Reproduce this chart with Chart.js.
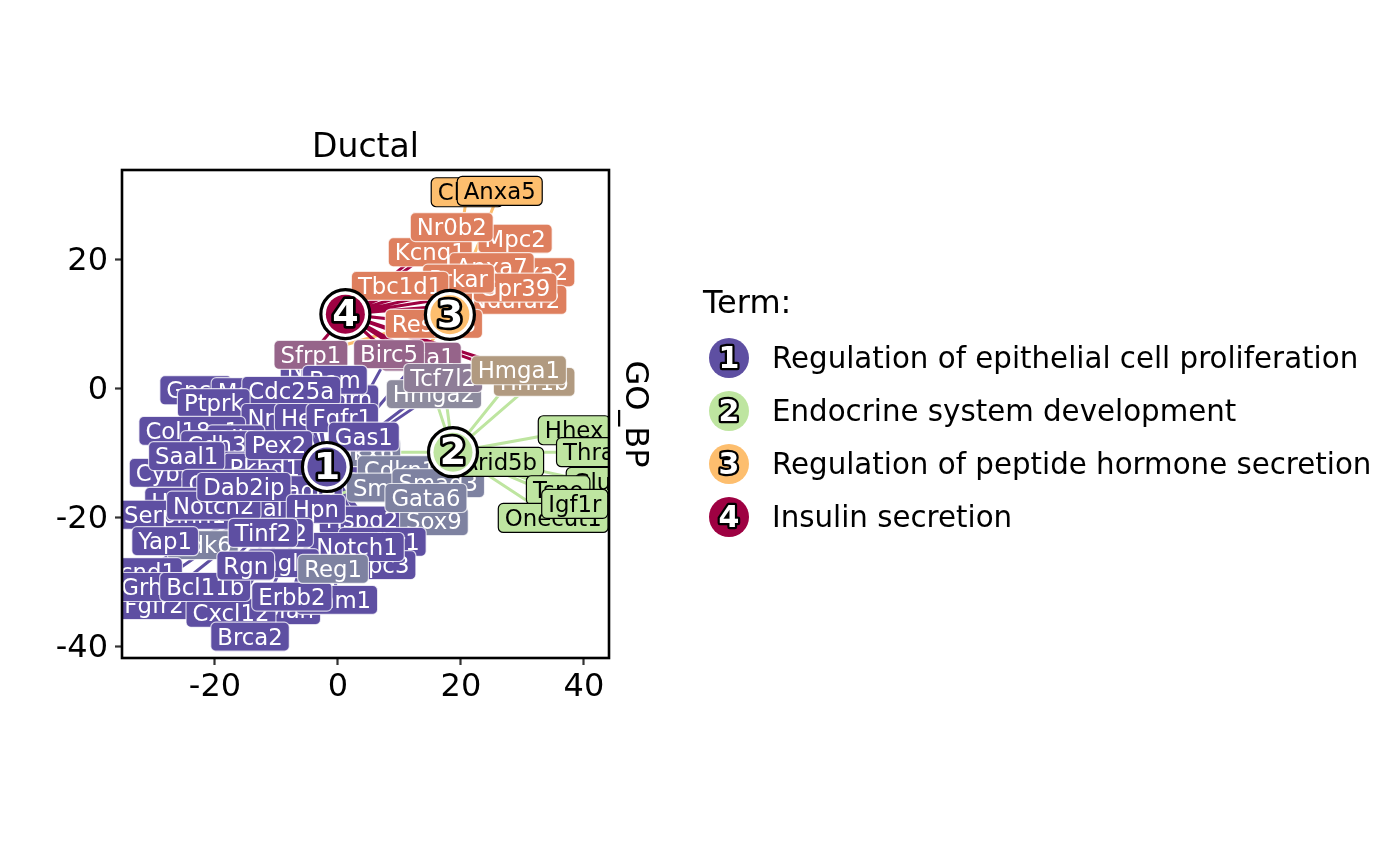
<!DOCTYPE html>
<html lang="en">
<head>
    <meta charset="UTF-8" />
    <title>Ductal</title>
    <script src="https://cdn.jsdelivr.net/npm/chart.js"></script>
    <style>
        html, body { margin: 0; padding: 0; background: #fff; }
        canvas { display: block; }
    </style>
</head>
<body>
<canvas id="goChart" width="1400" height="866"></canvas>

<script>
const termNames = [
    'Regulation of epithelial cell proliferation',
    'Endocrine system development',
    'Regulation of peptide hormone secretion',
    'Insulin secretion'
];
const termX = [-1.8, 18.7, 18.2, 1.2];
const termY = [-12.1, -9.8, 11.5, 11.6];
const termColors = ['#5E4FA2', '#BEE5A0', '#FDBE6E', '#9E0142'];

const xTicks = [-20, 0, 20, 40];
const yTicks = [-40, -20, 0, 20];

// genes, back to front
const geneNames = [
    'Chga', 'Anxa5', 'Mpc2', 'Kcnq1', 'Nr0b2', 'Anxa2', 'Ndufaf2', 'Anxa7', 'Gpr39', 'Prkar', 'Tbc1d1', 'Resp18',
    'Hnf1b', 'Hmga2', 'Nfib', 'Foxa1', 'Sfrp1', 'Birc5', 'Tcf7l2', 'Hmga1',
    'Ngrn', 'Bam', 'Gpc6', 'Mafb', 'Cdc25a', 'Ptprk', 'Nrp1', 'Hes1', 'Fgfr1', 'Nkx6', 'Gas1',
    'Cyb5a', 'Col18a1', 'Gli2', 'Cdh3', 'Cdon', 'Pkhd1', 'Pex2', 'Saal1', 'Ctnnb1', 'Padi4', 'Hes6', 'Serpinh1', 'Mal', 'Notch2', 'Dab2ip', 'Hspg2', 'Hpn',
    'Cdkn1', 'Smad1', 'Smad3', 'Sox9', 'Gata6',
    'Tgfbr1', 'Gpc3', 'Notch1', 'Igf2', 'Cdk6', 'Yap1', 'Tinf2',
    'Ccnd1', 'Fgfr2', 'Grhl2', 'Man', 'Dnm1', 'Cxcl12', 'Bcl11b', 'Tagln', 'Rgn', 'Erbb2', 'Reg1', 'Brca2',
    'Hhex', 'Glu', 'Thra', 'Arid5b', 'Tspo', 'Onecut1', 'Igf1r'
];
const geneX = [
    21.0, 26.3, 28.8, 15.0, 18.5, 31.6, 28.8, 25.0, 28.8, 19.6, 10.1, 15.6,
    31.9, 15.6, -4.6, 13.5, -4.4, 8.3, 17.1, 29.4,
    1.1, -0.5, -23.1, -15.0, -7.6, -20.2, -10.2, -4.6, 0.7, 4.4, 4.2,
    -27.0, -23.7, -16.6, -19.7, -18.9, -11.9, -9.6, -24.6, -17.6, -5.4, -25.7, -26.5, -12.2, -20.2, -15.3, 3.9, -3.6,
    10.1, 8.9, 16.3, 15.6, 14.3,
    7.2, 6.8, 3.1, -8.6, -22.0, -28.1, -12.2,
    -32.2, -29.9, -30.2, -7.8, -0.2, -17.4, -21.6, -8.9, -15.0, -7.5, -0.8, -14.3,
    38.4, 41.3, 40.8, 26.3, 35.8, 35.0, 38.5
];
const geneY = [
    30.5, 30.7, 23.3, 21.2, 25.1, 18.1, 13.8, 18.9, 15.7, 17.1, 16.0, 10.1,
    1.1, -0.8, 3.3, 5.0, 5.3, 5.4, 1.7, 2.9,
    -1.6, 1.4, -0.2, -0.5, -0.3, -2.2, -4.5, -4.5, -4.5, -9.8, -7.4,
    -13.0, -6.5, -7.8, -8.7, -11.9, -12.2, -8.7, -10.4, -14.7, -15.7, -17.5, -19.5, -18.4, -18.1, -15.2, -20.4, -18.6,
    -12.6, -15.3, -14.6, -20.5, -16.9,
    -23.7, -27.3, -24.5, -22.3, -24.2, -23.6, -22.3,
    -28.4, -33.5, -30.7, -34.3, -32.7, -34.7, -30.7, -27.0, -27.4, -32.2, -27.9, -38.4,
    -6.4, -14.4, -9.8, -11.3, -15.7, -20.0, -17.8
];

// which terms each gene is in
const term1Genes = [
    'Nfib', 'Foxa1', 'Sfrp1', 'Birc5', 'Tcf7l2', 'Hmga2', 'Ngrn', 'Bam', 'Gpc6', 'Mafb', 'Cdc25a', 'Ptprk', 'Nrp1', 'Hes1', 'Fgfr1', 'Nkx6', 'Gas1',
    'Col18a1', 'Gli2', 'Cdh3', 'Cdon', 'Pkhd1', 'Pex2', 'Saal1', 'Cyb5a', 'Ctnnb1', 'Padi4', 'Hes6', 'Serpinh1', 'Mal', 'Notch2', 'Dab2ip', 'Hpn',
    'Cdkn1', 'Smad1', 'Smad3', 'Sox9', 'Gata6', 'Tgfbr1', 'Gpc3', 'Hspg2', 'Notch1', 'Igf2', 'Cdk6', 'Yap1', 'Tinf2',
    'Ccnd1', 'Fgfr2', 'Grhl2', 'Man', 'Dnm1', 'Cxcl12', 'Bcl11b', 'Tagln', 'Rgn', 'Erbb2', 'Reg1', 'Brca2'
];
const term2Genes = [
    'Hhex', 'Glu', 'Thra', 'Arid5b', 'Tspo', 'Onecut1', 'Igf1r', 'Hnf1b', 'Hmga1', 'Hmga2', 'Tcf7l2',
    'Nkx6', 'Cdkn1', 'Smad1', 'Smad3', 'Sox9', 'Gata6', 'Cdk6', 'Reg1'
];
const term3Genes = [
    'Chga', 'Anxa5', 'Mpc2', 'Kcnq1', 'Nr0b2', 'Anxa2', 'Ndufaf2', 'Anxa7', 'Gpr39', 'Prkar', 'Tbc1d1', 'Resp18',
    'Sfrp1', 'Birc5', 'Foxa1'
];
const term4Genes = [
    'Mpc2', 'Kcnq1', 'Nr0b2', 'Anxa2', 'Ndufaf2', 'Anxa7', 'Gpr39', 'Prkar', 'Tbc1d1', 'Resp18',
    'Sfrp1', 'Birc5', 'Foxa1', 'Tcf7l2', 'Hmga2', 'Hmga1', 'Hnf1b'
];
const termGenes = [term1Genes, term2Genes, term3Genes, term4Genes];

// blended colours for genes in more than one term
const mixColors = {
    Anxa2: '#DE7F5E', Anxa7: '#DE7F5E', Gpr39: '#DE7F5E', Kcnq1: '#DE7F5E', Mpc2: '#DE7F5E', Ndufaf2: '#DE7F5E',
    Nr0b2: '#DE7F5E', Prkar: '#DE7F5E', Resp18: '#DE7F5E', Tbc1d1: '#DE7F5E',
    Sfrp1: '#96648A', Birc5: '#96648A', Foxa1: '#96648A', Tcf7l2: '#8E7D97', Hmga2: '#8D8B9E',
    Hmga1: '#B19A80', Hnf1b: '#B19A80',
    Nkx6: '#7E82A1', Cdkn1: '#7E82A1', Smad1: '#7E82A1', Smad3: '#7E82A1', Sox9: '#7E82A1', Gata6: '#7E82A1', Cdk6: '#7E82A1', Reg1: '#7E82A1'
};

const FONT = '"DejaVu Sans"';

function geneColor(name) {
    if (mixColors[name]) return mixColors[name];
    return termColors[termGenes.findIndex(list => list.includes(name))];
}

// star of lines: term, gene, term, gene ...
function edgeData(i) {
    const pts = [];
    termGenes[i].forEach(g => {
        const k = geneNames.indexOf(g);
        pts.push({ x: termX[i], y: termY[i] });
        pts.push({ x: geneX[k], y: geneY[k] });
    });
    return pts;
}

function outlined(ctx, text, x, y, px, lineW) {
    ctx.font = `bold ${px}px ${FONT}`;
    ctx.textAlign = 'center';
    ctx.textBaseline = 'middle';
    ctx.lineJoin = 'round';
    ctx.lineWidth = lineW;
    ctx.strokeStyle = '#000';
    ctx.strokeText(text, x, y);
    ctx.fillStyle = '#fff';
    ctx.fillText(text, x, y);
}

const labelsPlugin = {
    id: 'geneLabels',
    afterDatasetsDraw(chart) {
        const { ctx, chartArea: a, scales } = chart;
        ctx.save();
        ctx.beginPath();
        ctx.rect(a.left, a.top, a.width, a.height);
        ctx.clip();
        ctx.font = `22.8px ${FONT}`;
        ctx.textAlign = 'center';
        ctx.textBaseline = 'middle';
        geneNames.forEach((name, i) => {
            const x = scales.x.getPixelForValue(geneX[i]);
            const y = scales.y.getPixelForValue(geneY[i]);
            const w = ctx.measureText(name).width + 13;
            const c = geneColor(name);
            const light = c === termColors[1] || c === termColors[2];
            ctx.beginPath();
            ctx.roundRect(x - w / 2, y - 14.5, w, 29, 5);
            ctx.fillStyle = c;
            ctx.fill();
            ctx.lineWidth = 1.2;
            ctx.strokeStyle = light ? '#000' : '#fff';
            ctx.globalAlpha = light ? 1 : 0.75;
            ctx.stroke();
            ctx.globalAlpha = 1;
            ctx.fillStyle = light ? '#000' : '#fff';
            ctx.fillText(name, x, y + 2);
        });
        ctx.restore();

        ctx.save();
        termNames.forEach((t, i) => {
            const x = scales.x.getPixelForValue(termX[i]);
            const y = scales.y.getPixelForValue(termY[i]);
            ctx.beginPath();
            ctx.arc(x, y, 24.5, 0, Math.PI * 2);
            ctx.fillStyle = '#fff';
            ctx.fill();
            ctx.lineWidth = 3.2;
            ctx.strokeStyle = '#000';
            ctx.stroke();
            ctx.beginPath();
            ctx.arc(x, y, 19.5, 0, Math.PI * 2);
            ctx.fillStyle = termColors[i];
            ctx.fill();
            outlined(ctx, String(i + 1), x, y + 2, 38, 5.5);
        });
        ctx.restore();
    },
    afterDraw(chart) {
        const { ctx, chartArea: a } = chart;
        ctx.save();
        ctx.lineWidth = 2.6;
        ctx.strokeStyle = '#000';
        ctx.strokeRect(a.left, a.top, a.width, a.height);

        ctx.fillStyle = '#000';
        ctx.textBaseline = 'middle';
        ctx.textAlign = 'center';
        ctx.font = `33px ${FONT}`;
        ctx.fillText('Ductal', 365.5, 148);

        ctx.save();
        ctx.translate(634, 414);
        ctx.rotate(Math.PI / 2);
        ctx.font = `32px ${FONT}`;
        ctx.fillText('GO_BP', 0, 0);
        ctx.restore();

        ctx.textAlign = 'left';
        ctx.font = `32px ${FONT}`;
        ctx.fillText('Term:', 703, 305);
        termNames.forEach((t, i) => {
            const y = 358 + i * 53;
            ctx.beginPath();
            ctx.arc(729, y, 20, 0, Math.PI * 2);
            ctx.fillStyle = termColors[i];
            ctx.fill();
            outlined(ctx, String(i + 1), 729, y + 2, 30, 4.5);
            ctx.font = `29.3px ${FONT}`;
            ctx.textAlign = 'left';
            ctx.fillStyle = '#000';
            ctx.fillText(t, 772, y + 2);
        });
        ctx.restore();
    }
};

new Chart(document.getElementById('goChart'), {
    type: 'scatter',
    data: {
        datasets: termNames.map((t, i) => ({
            label: t,
            data: edgeData(i),
            showLine: true,
            pointRadius: 0,
            borderColor: termColors[i],
            borderWidth: 3,
            order: 4 - i
        }))
    },
    options: {
        responsive: false,
        animation: false,
        devicePixelRatio: 1,
        layout: { padding: { left: 0, right: 791, top: 170, bottom: 0 } },
        plugins: {
            legend: { display: false },
            title: { display: false },
            tooltip: { enabled: false }
        },
        scales: {
            x: {
                type: 'linear',
                min: -35.12,
                max: 44.07,
                afterBuildTicks: s => { s.ticks = xTicks.map(v => ({ value: v })); },
                afterFit: s => { s.height = 208; },
                border: { display: false },
                grid: { drawOnChartArea: false, drawTicks: true, tickColor: '#333', tickLength: 7, tickWidth: 2.2 },
                ticks: { color: '#000', font: { family: 'DejaVu Sans', size: 32 }, padding: 3, maxRotation: 0 }
            },
            y: {
                type: 'linear',
                min: -41.71,
                max: 33.95,
                afterBuildTicks: s => { s.ticks = yTicks.map(v => ({ value: v })); },
                afterFit: s => { s.width = 122; },
                border: { display: false },
                grid: { drawOnChartArea: false, drawTicks: true, tickColor: '#333', tickLength: 7, tickWidth: 2.2 },
                ticks: { color: '#000', font: { family: 'DejaVu Sans', size: 32 }, padding: 7, labelOffset: 2 }
            }
        }
    },
    plugins: [labelsPlugin]
});
</script>
</body>
</html>
